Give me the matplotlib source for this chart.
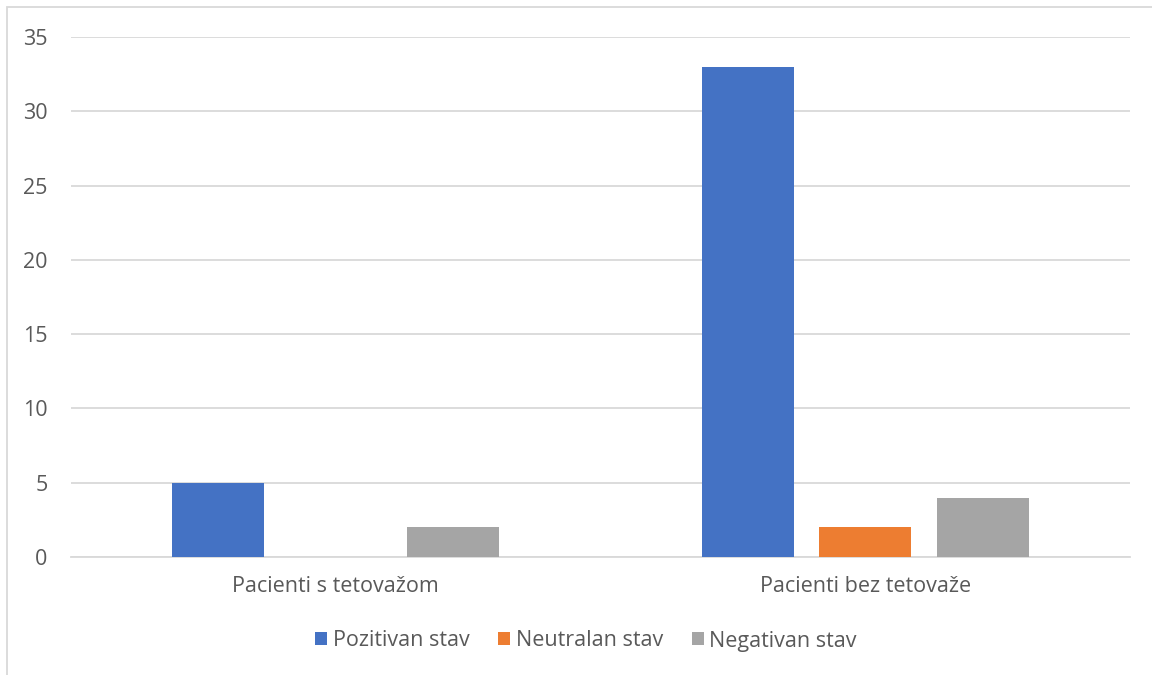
import matplotlib
matplotlib.use("Agg")
import matplotlib.pyplot as plt
from matplotlib.patches import Rectangle
import numpy as np

categories = ["Pacienti s tetovažom", "Pacienti bez tetovaže"]
series_names = ["Pozitivan stav", "Neutralan stav", "Negativan stav"]
pozitivan = [5, 33]
neutralan = [0, 2]
negativan = [2, 4]
yticks = [0, 5, 10, 15, 20, 25, 30, 35]

colors = ["#4472C4", "#ED7D31", "#A5A5A5"]
text_color = "#595959"
grid_color = "#D9D9D9"

plt.rcParams["font.family"] = ["Open Sans", "DejaVu Sans"]

fig = plt.figure(figsize=(11.52, 6.75), dpi=100)
ax = fig.add_axes([71 / 1152, 1 - 557 / 675, (1130 - 71) / 1152, (557 - 37) / 675])

x = np.arange(len(categories))
width = 0.174
step = 0.222
for i, (name, vals) in enumerate(zip(series_names, [pozitivan, neutralan, negativan])):
    ax.bar(x + (i - 1) * step, vals, width=width, color=colors[i], label=name, zorder=3)

ax.set_xlim(-0.5, 1.5)
ax.set_ylim(0, 35)
ax.set_yticks(yticks)
ax.set_xticks(x)
ax.set_xticklabels(categories)
ax.yaxis.grid(True, color=grid_color, linewidth=1.3, zorder=0)
ax.set_axisbelow(True)
for s in ["top", "right", "left"]:
    ax.spines[s].set_visible(False)
ax.spines["bottom"].set_color(grid_color)
ax.spines["bottom"].set_linewidth(1.3)
ax.tick_params(axis="both", length=0, labelsize=15.5, colors=text_color)
ax.tick_params(axis="y", pad=17)
ax.tick_params(axis="x", pad=14)

# legend sits slightly right of centre, like the Excel original
leg = fig.legend(loc="center", bbox_to_anchor=(586 / 1152, 1 - 641 / 675), ncol=3, frameon=False,
                 fontsize=15.5, handlelength=0.55, handleheight=0.55, handletextpad=0.25,
                 columnspacing=1.35)
for t in leg.get_texts():
    t.set_color(text_color)

fig.patches.append(Rectangle((7 / 1152, -0.1), 2, 1.1 - 7 / 675, transform=fig.transFigure,
                             fill=False, edgecolor=grid_color, linewidth=1.3))

fig.savefig("out.png", dpi=100)
